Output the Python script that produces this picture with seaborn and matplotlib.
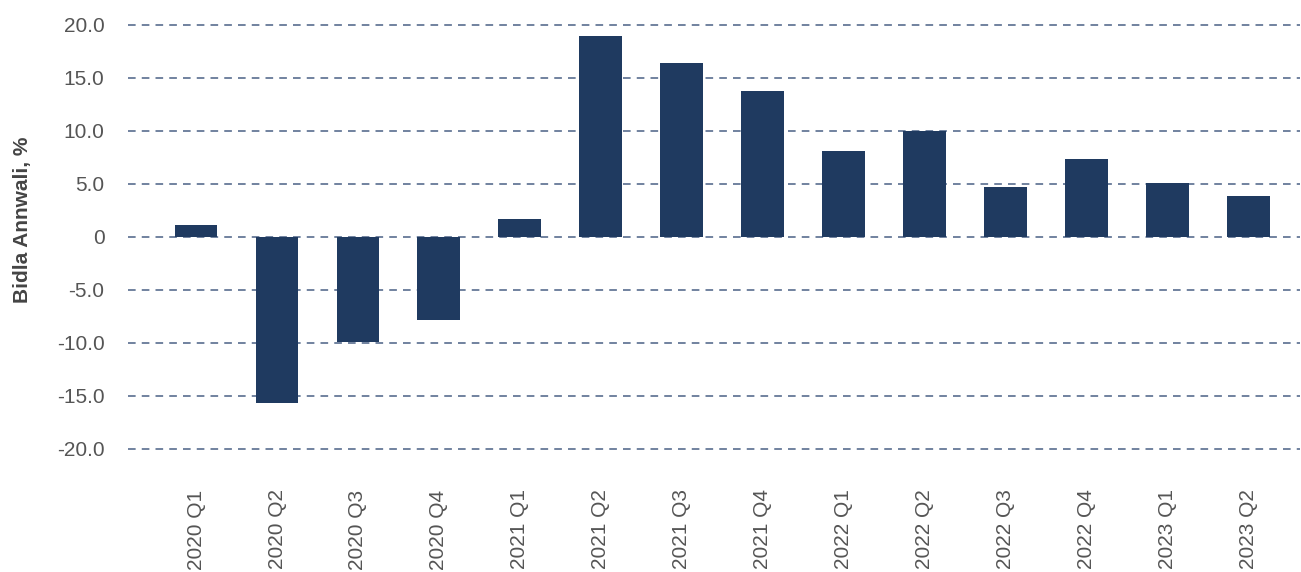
import matplotlib
matplotlib.use("Agg")
import matplotlib.pyplot as plt
import seaborn as sns
import pandas as pd

quarters = ["2020 Q1", "2020 Q2", "2020 Q3", "2020 Q4", "2021 Q1", "2021 Q2", "2021 Q3",
            "2021 Q4", "2022 Q1", "2022 Q2", "2022 Q3", "2022 Q4", "2023 Q1", "2023 Q2"]
values = [1.1, -15.7, -9.9, -7.8, 1.7, 19.0, 16.4, 13.8, 8.1, 10.0, 4.7, 7.4, 5.1, 3.9]
yticks = [-20, -15, -10, -5, 0, 5, 10, 15, 20]
ytick_labels = ["-20.0", "-15.0", "-10.0", "-5.0", "0", "5.0", "10.0", "15.0", "20.0"]

sns.set_style("white")
plt.rcParams['font.family'] = ['Liberation Sans', 'DejaVu Sans']

df = pd.DataFrame({"q": quarters, "v": values})
fig = plt.figure(figsize=(13.01, 5.72), dpi=100)
ax = fig.add_axes([0.0984, 0.1687, 0.9006, 0.797])
sns.barplot(data=df, x="q", y="v", color="#1f3a60", saturation=1, width=0.53, ax=ax,
            linewidth=0, zorder=2)

ax.set_ylim(-22.5, 20.5)
ax.set_xlim(-0.84, 13.63)
ax.set_yticks(yticks)
ax.set_yticklabels(ytick_labels)
ax.yaxis.grid(True, linestyle=(0, (5, 4)), color="#4a6185", linewidth=1.1, zorder=1)
ax.xaxis.grid(False)
ax.set_axisbelow(True)
for s in ax.spines.values():
    s.set_visible(False)
ax.tick_params(axis="y", length=0, pad=17, labelsize=15, labelcolor="#555555")
ax.tick_params(axis="x", length=0, pad=10, labelsize=15, labelcolor="#555555", rotation=90)
ax.set_xlabel("")
ax.set_ylabel("Bidla Annwali, %", fontsize=15, color="#444444", fontweight="bold")
ax.yaxis.set_label_coords(-0.082, 0.56)

fig.savefig("out.png", dpi=100)
